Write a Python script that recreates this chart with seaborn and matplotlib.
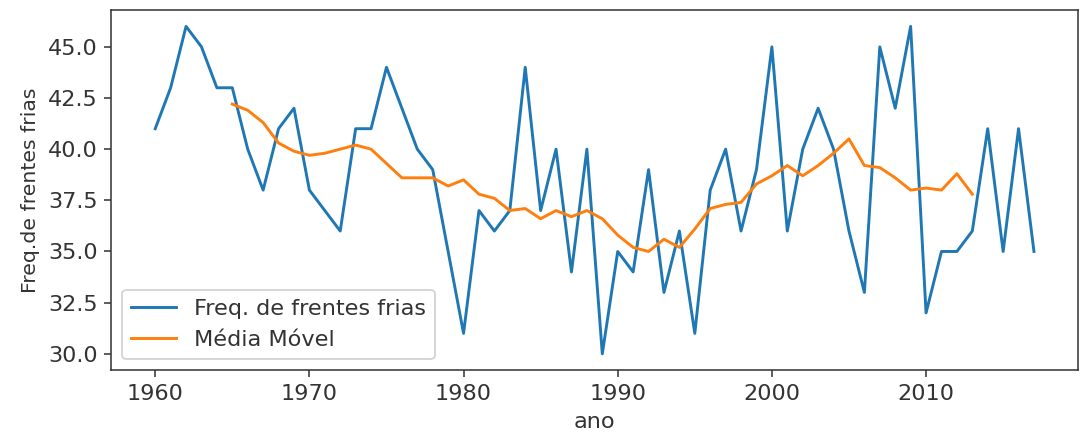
import matplotlib
matplotlib.use("Agg")
import matplotlib.pyplot as plt
from matplotlib.ticker import MultipleLocator, FormatStrFormatter
import seaborn as sns
import pandas as pd

anos = list(range(1960, 2018))
freq = [41, 43, 46, 45, 43, 43, 40, 38, 41, 42,
        38, 37, 36, 41, 41, 44, 42, 40, 39, 35,
        31, 37, 36, 37, 44, 37, 40, 34, 40, 30,
        35, 34, 39, 33, 36, 31, 38, 40, 36, 39,
        45, 36, 40, 42, 40, 36, 33, 45, 42, 46,
        32, 35, 35, 36, 41, 35, 41, 35]

anos_mm = list(range(1965, 2014))
media_movel = [42.2, 41.9, 41.3, 40.3, 39.9, 39.7, 39.8, 40.0, 40.2, 40.0,
               39.3, 38.6, 38.6, 38.6, 38.2, 38.5, 37.8, 37.6, 37.0, 37.1,
               36.6, 37.0, 36.7, 37.0, 36.6, 35.8, 35.2, 35.0, 35.6, 35.2,
               36.1, 37.1, 37.3, 37.4, 38.3, 38.7, 39.2, 38.7, 39.2, 39.8,
               40.5, 39.2, 39.1, 38.6, 38.0, 38.1, 38.0, 38.8, 37.8]

df = pd.DataFrame({"ano": anos, "freq": freq})
dfm = pd.DataFrame({"ano": anos_mm, "mm": media_movel})

DPI = 140
fig, ax = plt.subplots(figsize=(1091 / DPI, 435 / DPI), dpi=DPI)
fig.subplots_adjust(left=0.102, right=0.988, top=0.977, bottom=0.149)

sns.lineplot(data=df, x="ano", y="freq", ax=ax, label="Freq. de frentes frias", color="#1f77b4")
sns.lineplot(data=dfm, x="ano", y="mm", ax=ax, label="Média Móvel", color="#ff7f0e")

ax.yaxis.set_major_locator(MultipleLocator(2.5))
ax.yaxis.set_major_formatter(FormatStrFormatter("%.1f"))
ax.tick_params(labelsize=11.5, colors="#333333", labelcolor="#333333")
for sp in ax.spines.values():
    sp.set_edgecolor("#333333")
ax.set_xlabel("ano", fontsize=11.5, color="#333333")
ax.set_ylabel("Freq.de frentes frias", fontsize=10.5, color="#333333")
leg = ax.legend(loc="lower left", fontsize=11.5)
for t in leg.get_texts():
    t.set_color("#333333")

fig.savefig("out.png", dpi=DPI)
